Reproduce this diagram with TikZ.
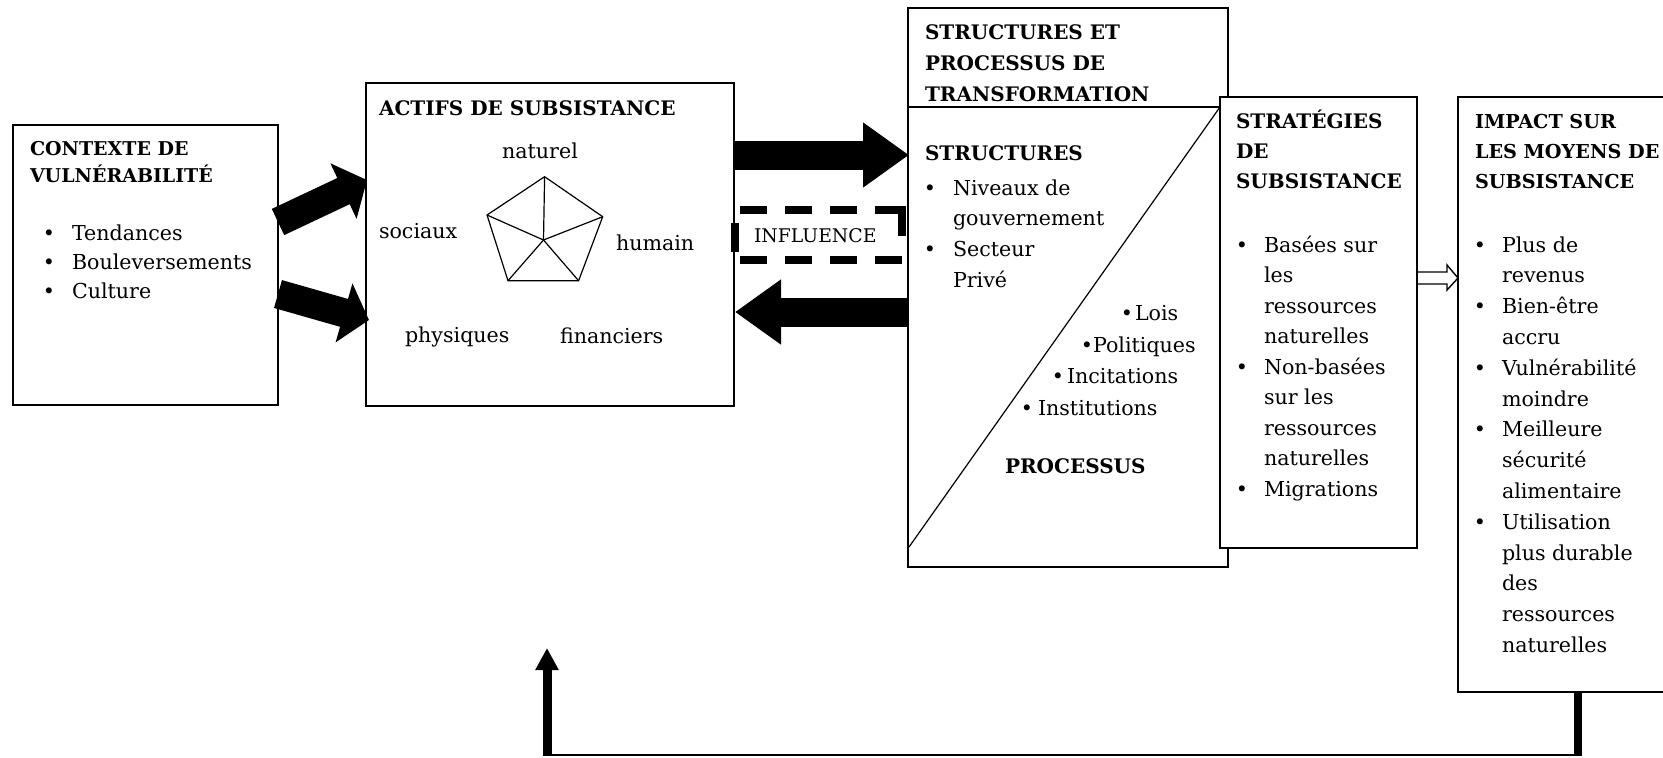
\documentclass[tikz,border=0pt]{standalone}
\usepackage{fontspec}
\setmainfont{DejaVu Serif}
\usetikzlibrary{arrows.meta,calc}
\newcommand\myBody{\fontsize{10.3}{12}\selectfont}
\newcommand\myHead{\fontsize{10}{12}\selectfont\bfseries}
\newcommand\myHeadS{\fontsize{9.5}{12}\selectfont\bfseries}
\newcommand\myHeadT{\fontsize{9.6}{12}\selectfont\bfseries}
\newcommand\myInfl{\fontsize{9.4}{12}\selectfont}
\begin{document}
\begin{tikzpicture}[x=0.5pt,y=-0.5pt,
  box/.style={draw,line width=1pt,fill=white,inner sep=0pt,outer sep=0pt,anchor=north west},
  txt/.style={anchor=base west,inner sep=0pt,outer sep=0pt,font=\myBody},
  ttl/.style={anchor=base west,inner sep=0pt,outer sep=0pt,font=\myHead},
  bul/.style={anchor=base,inner sep=0pt,outer sep=0pt,font=\myBody},
  ctr/.style={anchor=base,inner sep=0pt,outer sep=0pt,font=\myBody},
  fatA/.style={line width=14.5pt,-{Triangle[width=30pt,length=13pt]}},
  fatB/.style={line width=14.5pt,-{Triangle[width=31pt,length=23pt]}},
  dashy/.style={line width=4pt,dash pattern=on 13.5pt off 9pt,dash phase=20pt},
  solidy/.style={line width=4pt},
  thinline/.style={line width=0.6pt},
  hollow/.style={line width=0.7pt},
  fbline/.style={line width=4pt},
  fbarrow/.style={line width=4.5pt,-{Triangle[width=11pt,length=11pt]}}
]
\clip (0,0) rectangle (1663,757);
\fill[white] (0,0) rectangle (1663,757);

% boxes
\node[box,minimum width=132.5pt,minimum height=140pt] (ctx) at (13,125) {};
\node[box,minimum width=184pt,minimum height=161.5pt] (act) at (366,83) {};
\node[box,minimum width=160pt,minimum height=279.5pt] (str) at (908,8) {};
\draw[line width=1pt] ($(str.north west)+(0,99)$) -- ($(str.north east)+(0,99)$);
\coordinate (dgA) at ($(str.south west)+(1,-20)$);
\coordinate (dgB) at ($(str.north east)+(-8,99)$);
\draw[thinline] (dgA) -- (dgB);
\node[box,minimum width=98.5pt,minimum height=225.5pt] (strat) at (1220,97) {};
\node[box,minimum width=130pt,minimum height=297.5pt] (imp) at (1458,97) {};

% pentagon
\coordinate (pc) at (543.5,240);
\coordinate (p1) at (544.6,176.7);
\coordinate (p2) at (602.7,216.7);
\coordinate (p3) at (578.6,280.7);
\coordinate (p4) at (508,280.7);
\coordinate (p5) at (487,215);
\draw[line width=0.6pt] (p1)--(p2)--(p3)--(p4)--(p5)--cycle;
\foreach \p in {p1,p2,p3,p4,p5} \draw[line width=0.6pt] (pc) -- (\p);

% influence (dashed frame)
\node[inner sep=0pt,outer sep=0pt,anchor=north west,minimum width=85pt,minimum height=25pt] (infl) at (735,210) {};
\draw[dashy] (infl.north west) -- ($(infl.north east)+(-1,0)$);
\draw[dashy] (infl.south west) -- ($(infl.south east)+(-1,0)$);
\draw[solidy] ($(infl.north east)+(-3,-4)$) -- ($(infl.north east)+(-3,26)$);
\draw[solidy] ($(infl.north west)+(0,13)$) -- ($(infl.north west)+(0,42)$);

% big arrows
\draw[fatA] ($(ctx.north east)+(0,97)$) -- ($(act.north west)+(1,97)$);
\draw[fatA] ($(ctx.north east)+(0,169)$) -- ($(act.north west)+(3,237)$);
\draw[fatB] ($(act.north east)+(0,72)$) -- ($(str.north west)+(1,147)$);
\draw[fatB] ($(str.north west)+(0,304)$) -- ($(act.north east)+(1,229)$);

% hollow arrow
\coordinate (hS) at ($(strat.north east)+(0,181)$);
\coordinate (hT) at ($(imp.north west)+(0,181)$);
\draw[hollow] ($(hS)+(0,-6)$) -- ($(hT)+(-11,-6)$) -- ($(hT)+(-11,-13)$) -- (hT)
  -- ($(hT)+(-11,12)$) -- ($(hT)+(-11,6)$) -- ($(hS)+(0,6)$);

% feedback
\coordinate (fbA) at ($(imp.south west)+(120,0)$);
\coordinate (fbB) at ($(fbA)+(0,63)$);
\coordinate (fbtip) at ($(act.south west)+(181,242)$);
\coordinate (fbC) at (fbtip |- fbB);
\draw[fbline] (fbA) -- ($(fbB)+(0,1)$);
\draw[line width=1pt] (fbB) -- (fbC);
\draw[fbarrow] ($(fbC)+(0,1)$) -- (fbtip);

% texts box 1
\foreach \s [count=\i from 0] in {CONTEXTE DE,VULNÉRABILITÉ}
  \node[ttl,font=\myHeadS] (ctxh\i) at (30,155+27*\i) {\s};
\foreach \s [count=\i from 0] in {Tendances,Bouleversements,Culture}{
  \node[txt] (ctxt\i) at (72,240+29*\i) {\s};
  \node[bul] (ctxb\i) at (49,240+29*\i) {\textbullet};
}

% texts box 2
\node[ttl] (acth) at (379,115) {ACTIFS DE SUBSISTANCE};
\node[ctr] (nat) at (540,158) {naturel};
\node[txt] (soc) at (379,238) {sociaux};
\node[txt] (hum) at (616,250) {humain};
\node[txt] (phy) at (405,342) {physiques};
\node[txt] (fin) at (560,343) {financiers};
\node[txt,font=\myInfl] (inflt) at (754,242) {INFLUENCE};

% texts box 3
\foreach \s [count=\i from 0] in {STRUCTURES ET,PROCESSUS DE,TRANSFORMATION}
  \node[ttl] (strh\i) at (925,39+31*\i) {\s};
\node[ttl] (strs) at (925,160) {STRUCTURES};
\foreach \s [count=\i from 0] in {Niveaux de,gouvernement,Secteur,Privé}
  \node[txt] (strt\i) at (953,195+30.7*\i) {\s};
\foreach \i in {0,2}
  \node[bul] (strb\i) at (930,195+30.7*\i) {\textbullet};
\foreach \s/\bx/\tx/\yy [count=\i] in {Lois/1127/1135/320,Politiques/1087/1093/352,Incitations/1058/1067/383,Institutions/1027/1038/415}{
  \node[bul] (prb\i) at (\bx,\yy) {\textbullet};
  \node[txt] (prt\i) at (\tx,\yy) {\s};
}
\node[ttl] (prh) at (1005,473) {PROCESSUS};

% texts box 4
\foreach \s [count=\i from 0] in {STRATÉGIES,DE,SUBSISTANCE}
  \node[ttl] (sth\i) at (1236,128+30*\i) {\s};
\foreach \s [count=\i from 0] in {Basées sur,les,ressources,naturelles,Non-basées,sur les,ressources,naturelles,Migrations}
  \node[txt] (stt\i) at (1264,252+30.5*\i) {\s};
\foreach \i in {0,4,8}
  \node[bul] (stb\i) at (1242,252+30.5*\i) {\textbullet};

% texts box 5
\foreach \s [count=\i from 0] in {IMPACT SUR,LES MOYENS DE,SUBSISTANCE}
  \node[ttl,font=\myHeadT] (imh\i) at (1475,128+30*\i) {\s};
\foreach \s [count=\i from 0] in {Plus de,revenus,Bien-être,accru,Vulnérabilité,moindre,Meilleure,sécurité,alimentaire,Utilisation,plus durable,des,ressources,naturelles}
  \node[txt] (imt\i) at (1502,252+30.8*\i) {\s};
\foreach \i in {0,2,4,6,9}
  \node[bul] (imb\i) at (1480,252+30.8*\i) {\textbullet};
\end{tikzpicture}
\end{document}
